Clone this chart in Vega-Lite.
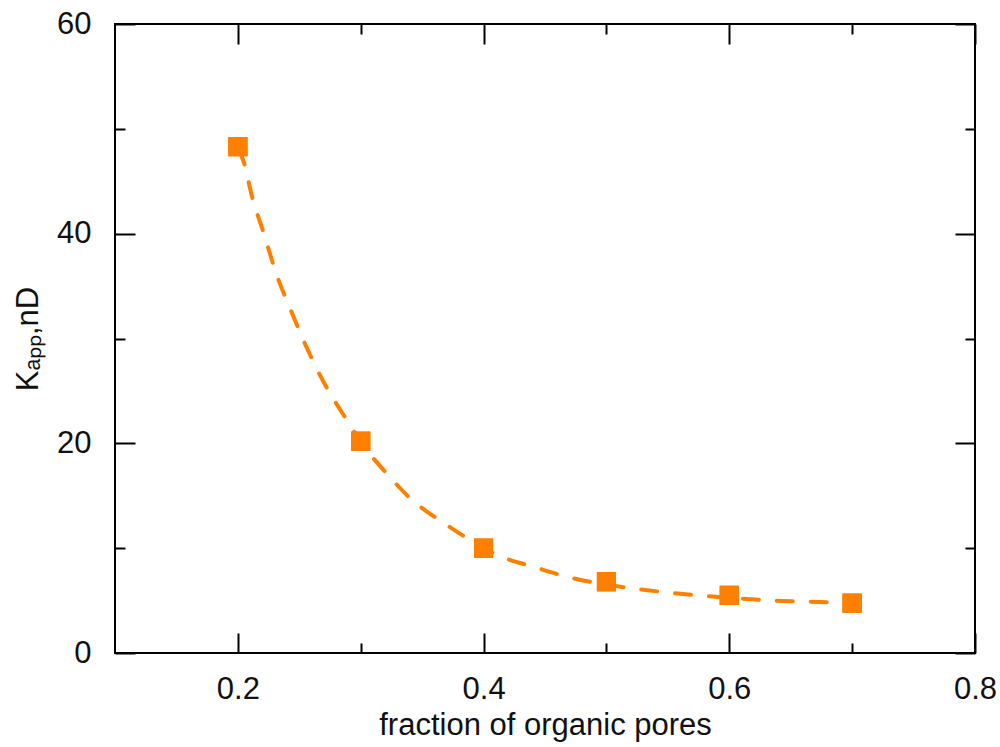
{
  "$schema": "https://vega.github.io/schema/vega-lite/v6.json",
  "width": 860,
  "height": 629,
  "autosize": {"type": "none"},
  "padding": {"left": 115, "top": 24, "right": 25, "bottom": 94},
  "background": "white",
  "config": {
    "view": {"stroke": "black", "strokeWidth": 2},
    "axis": {
      "grid": false,
      "domain": false,
      "labelFlush": false,
      "tickColor": "black",
      "tickWidth": 2,
      "labelFont": "Liberation Sans",
      "titleFont": "Liberation Sans",
      "labelFontSize": 31,
      "titleFontSize": 31,
      "labelColor": "#111",
      "titleColor": "#111",
      "titleFontWeight": "normal"
    }
  },
  "datasets": {
    "pts": [
      {"f": 0.2, "k": 48.3},
      {"f": 0.3, "k": 20.2},
      {"f": 0.4, "k": 10.0},
      {"f": 0.5, "k": 6.8},
      {"f": 0.6, "k": 5.5},
      {"f": 0.7, "k": 4.75}
    ],
    "curve": [
      {"f": 0.2008, "k": 48.0},
      {"f": 0.2049, "k": 46.8},
      {"f": 0.2114, "k": 43.6},
      {"f": 0.2212, "k": 40.0},
      {"f": 0.2309, "k": 36.3},
      {"f": 0.2431, "k": 32.7},
      {"f": 0.2554, "k": 29.3},
      {"f": 0.2700, "k": 25.8},
      {"f": 0.2855, "k": 22.8},
      {"f": 0.3067, "k": 19.1},
      {"f": 0.3213, "k": 17.1},
      {"f": 0.3417, "k": 14.6},
      {"f": 0.3677, "k": 12.4},
      {"f": 0.4149, "k": 9.16},
      {"f": 0.4410, "k": 8.21},
      {"f": 0.4654, "k": 7.35},
      {"f": 0.5126, "k": 6.30},
      {"f": 0.5533, "k": 5.73},
      {"f": 0.6144, "k": 5.15},
      {"f": 0.6429, "k": 4.96},
      {"f": 0.6738, "k": 4.87},
      {"f": 0.6999, "k": 4.77}
    ]
  },
  "data": {"name": "pts"},
  "resolve": {"axis": {"x": "independent", "y": "independent"}},
  "layer": [
    {
      "data": {"name": "curve"},
      "mark": {"type": "line", "color": "#FF8000", "strokeWidth": 4, "strokeDash": [16, 18], "strokeCap": "round", "interpolate": "monotone"},
      "encoding": {
        "x": {"field": "f", "type": "quantitative", "scale": {"domain": [0.1, 0.8], "nice": false, "zero": false},
          "axis": {"orient": "bottom", "values": [0.2, 0.4, 0.6, 0.8], "format": ".1f", "ticks": false, "labelPadding": 21, "title": "fraction of organic pores", "titlePadding": 6}},
        "y": {"field": "k", "type": "quantitative", "scale": {"domain": [0, 60], "nice": false, "zero": false},
          "axis": {"orient": "left", "values": [0, 20, 40, 60], "ticks": false, "labelPadding": 24, "title": "Kₐₚₚ,nD", "titlePadding": 12}}
      }
    },
    {
      "mark": {"type": "point", "shape": "square", "filled": true, "size": 361, "color": "#FF8000", "opacity": 1},
      "encoding": {
        "x": {"field": "f", "type": "quantitative", "axis": {"orient": "bottom", "values": [0.2, 0.4, 0.6, 0.8], "tickSize": -20, "labels": false, "title": null}},
        "y": {"field": "k", "type": "quantitative", "axis": {"orient": "left", "values": [0, 20, 40, 60], "tickSize": -20, "labels": false, "title": null}}
      }
    },
    {
      "mark": {"type": "point", "shape": "square", "filled": true, "size": 361, "color": "#FF8000", "opacity": 1},
      "encoding": {
        "x": {"field": "f", "type": "quantitative", "axis": {"orient": "top", "values": [0.2, 0.4, 0.6, 0.8], "tickSize": -20, "labels": false, "title": null}},
        "y": {"field": "k", "type": "quantitative", "axis": {"orient": "right", "values": [0, 20, 40, 60], "tickSize": -20, "labels": false, "title": null}}
      }
    },
    {
      "mark": {"type": "point", "shape": "square", "filled": true, "size": 361, "color": "#FF8000", "opacity": 1},
      "encoding": {
        "x": {"field": "f", "type": "quantitative", "axis": {"orient": "bottom", "values": [0.3, 0.5, 0.7], "tickSize": -10, "labels": false, "title": null}},
        "y": {"field": "k", "type": "quantitative", "axis": {"orient": "left", "values": [10, 30, 50], "tickSize": -10, "labels": false, "title": null}}
      }
    },
    {
      "mark": {"type": "point", "shape": "square", "filled": true, "size": 361, "color": "#FF8000", "opacity": 1},
      "encoding": {
        "x": {"field": "f", "type": "quantitative", "axis": {"orient": "top", "values": [0.3, 0.5, 0.7], "tickSize": -10, "labels": false, "title": null}},
        "y": {"field": "k", "type": "quantitative", "axis": {"orient": "right", "values": [10, 30, 50], "tickSize": -10, "labels": false, "title": null}}
      }
    }
  ]
}
